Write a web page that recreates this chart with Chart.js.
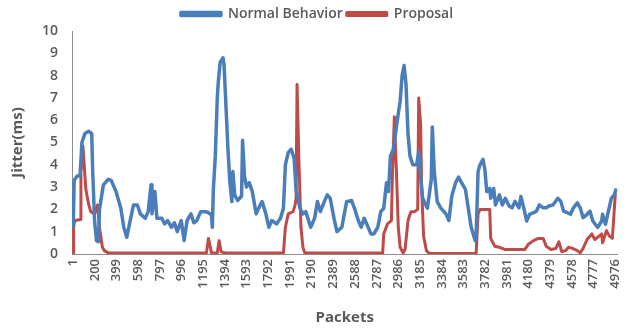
<!DOCTYPE html>
<html>
<head>
<meta charset="utf-8">
<script src="https://cdn.jsdelivr.net/npm/chart.js@4/dist/chart.umd.min.js"></script>
<style>
  html, body { margin: 0; padding: 0; background: #ffffff; }
  #wrap { width: 636px; height: 328px; position: relative; }
</style>
</head>
<body>
<div id="wrap"><canvas id="c" width="636" height="328"></canvas></div>
<script>
// Packet index tick labels along the x-axis
const packetTicks = [1, 200, 399, 598, 797, 996, 1195, 1394, 1593, 1792, 1991, 2190, 2389,
  2588, 2787, 2986, 3185, 3384, 3583, 3782, 3981, 4180, 4379, 4578, 4777, 4976];

// Normal Behavior: jitter (ms) per packet
const normalPackets = [1, 10, 37, 64, 81, 108, 144, 171, 180, 197, 215, 233, 242, 278, 322, 349, 394, 438, 465, 492,
  528, 555, 590, 617, 662, 689, 715, 724, 751, 769, 814, 840, 867, 903, 930, 956, 992, 1019, 1046, 1081,
  1108, 1135, 1171, 1215, 1242, 1269, 1278, 1287, 1305, 1323, 1332, 1350, 1376, 1385, 1403, 1421, 1439, 1457, 1466, 1483,
  1510, 1546, 1555, 1573, 1591, 1617, 1644, 1680, 1707, 1734, 1769, 1796, 1823, 1867, 1903, 1930, 1948, 1974, 2001, 2028,
  2046, 2082, 2109, 2135, 2180, 2216, 2242, 2269, 2305, 2332, 2359, 2394, 2421, 2466, 2510, 2555, 2582, 2617, 2644, 2671,
  2707, 2733, 2760, 2796, 2823, 2850, 2876, 2894, 2912, 2939, 2975, 3001, 3019, 3037, 3055, 3073, 3091, 3117, 3153, 3171,
  3189, 3207, 3251, 3287, 3296, 3314, 3341, 3376, 3421, 3448, 3475, 3510, 3537, 3564, 3600, 3626, 3653, 3689, 3698, 3716,
  3734, 3761, 3778, 3796, 3823, 3832, 3859, 3876, 3912, 3939, 3966, 4001, 4028, 4055, 4091, 4109, 4135, 4162, 4189, 4225,
  4251, 4278, 4314, 4341, 4367, 4403, 4448, 4475, 4501, 4537, 4564, 4591, 4627, 4653, 4680, 4716, 4743, 4769, 4814, 4850,
  4858, 4885, 4912, 4939, 4966, 4984];
const normalJitter = [1.2, 3.3, 3.5, 3.5, 5.0, 5.4, 5.5, 5.4, 3.7, 1.5, 0.6, 0.55, 2.0, 3.1, 3.35, 3.3, 2.8, 2.05, 1.2, 0.75,
  1.6, 2.2, 2.2, 1.8, 1.6, 1.9, 3.1, 1.8, 2.8, 1.6, 1.6, 1.35, 1.5, 1.2, 1.4, 1.0, 1.5, 0.6, 1.5, 1.8,
  1.4, 1.5, 1.9, 1.9, 1.85, 1.75, 1.2, 2.9, 4.4, 7.0, 7.7, 8.6, 8.8, 8.5, 6.6, 4.7, 3.2, 2.35, 3.7, 2.65,
  2.4, 2.6, 5.1, 3.5, 3.0, 3.2, 2.8, 1.8, 2.1, 2.35, 1.8, 1.2, 1.5, 1.35, 1.6, 2.05, 4.0, 4.55, 4.7, 4.3,
  2.9, 2.05, 1.8, 1.9, 1.2, 1.6, 2.35, 1.9, 2.35, 2.65, 2.5, 1.6, 1.0, 1.2, 2.35, 2.4, 2.05, 1.5, 1.2, 1.6,
  1.2, 0.9, 0.9, 1.2, 1.9, 2.05, 3.2, 2.8, 4.4, 4.7, 6.0, 6.85, 8.0, 8.45, 7.6, 5.4, 4.4, 4.0, 4.0, 4.6,
  3.5, 2.5, 2.05, 3.35, 5.7, 3.7, 2.35, 2.05, 1.8, 1.5, 2.6, 3.2, 3.45, 3.2, 2.9, 2.05, 1.2, 0.6, 0.8, 3.7,
  4.0, 4.25, 3.8, 2.8, 2.94, 2.5, 2.94, 2.2, 2.65, 2.2, 2.5, 2.15, 2.07, 2.36, 2.07, 2.58, 2.07, 1.48, 1.78, 1.85,
  1.92, 2.2, 2.07, 2.07, 2.15, 2.2, 2.5, 2.36, 1.92, 1.85, 1.78, 2.07, 2.29, 2.07, 1.63, 1.78, 1.92, 1.48, 1.19, 1.48,
  1.78, 1.33, 1.92, 2.5, 2.65, 2.94];

// Proposal: jitter (ms) per packet
const proposalPackets = [1, 5, 10, 19, 64, 72, 90, 99, 117, 144, 162, 197, 224, 242, 269, 287, 322, 1224, 1242, 1260,
  1269, 1323, 1340, 1358, 1394, 1930, 1948, 1974, 2019, 2037, 2046, 2055, 2073, 2091, 2109, 2126, 2841, 2850, 2885, 2921,
  2930, 2948, 2966, 2984, 3001, 3028, 3046, 3073, 3100, 3135, 3162, 3171, 3189, 3198, 3216, 3242, 3269, 3698, 3716, 3734,
  3823, 3832, 3868, 3912, 3966, 4028, 4144, 4180, 4225, 4269, 4314, 4341, 4385, 4430, 4457, 4484, 4519, 4546, 4582, 4627,
  4653, 4680, 4716, 4760, 4787, 4814, 4850, 4858, 4894, 4921, 4948, 4975, 4984];
const proposalJitter = [0.0, 1.2, 1.4, 1.5, 1.55, 3.7, 4.85, 4.2, 2.9, 2.2, 1.9, 1.8, 2.2, 1.2, 0.3, 0.15, 0.05, 0.05, 0.7, 0.3,
  0.05, 0.05, 0.6, 0.1, 0.05, 0.05, 1.2, 1.8, 1.9, 2.2, 2.5, 7.6, 4.0, 1.2, 0.3, 0.05, 0.05, 0.9, 1.35, 1.5,
  3.5, 6.15, 3.8, 1.2, 0.3, 0.05, 0.2, 1.5, 1.9, 1.9, 2.0, 7.0, 5.8, 3.0, 0.8, 0.15, 0.02, 0.02, 1.8, 2.0,
  2.0, 0.7, 0.35, 0.3, 0.2, 0.2, 0.2, 0.45, 0.6, 0.7, 0.7, 0.35, 0.2, 0.25, 0.55, 0.1, 0.15, 0.3, 0.25, 0.15,
  0.05, 0.25, 0.65, 0.9, 0.65, 0.75, 0.9, 0.5, 1.05, 0.8, 0.7, 2.65, 2.7];

const toPoints = (xs, ys) => xs.map((x, i) => ({ x: x, y: ys[i] }));

const textColor = '#595959';
const FONT = "'Open Sans', 'Liberation Sans', sans-serif";

new Chart(document.getElementById('c'), {
  type: 'line',
  data: {
    datasets: [
      {
        label: 'Normal Behavior',
        data: toPoints(normalPackets, normalJitter),
        borderColor: '#4a7ebb',
        backgroundColor: '#4a7ebb',
        borderWidth: 3.5,
        pointRadius: 0,
        tension: 0,
        borderJoinStyle: 'round'
      },
      {
        label: 'Proposal',
        data: toPoints(proposalPackets, proposalJitter),
        borderColor: '#be4b48',
        backgroundColor: '#be4b48',
        borderWidth: 3,
        pointRadius: 0,
        tension: 0,
        borderJoinStyle: 'round'
      }
    ]
  },
  options: {
    responsive: false,
    animation: false,
    events: [],
    layout: { padding: { top: 3, left: 0, right: 2, bottom: 0 } },
    plugins: {
      tooltip: { enabled: false },
      legend: {
        position: 'top',
        labels: {
          boxWidth: 40,
          boxHeight: 3,
          padding: 4,
          color: textColor,
          font: { family: FONT, size: 14, weight: '600' }
        }
      }
    },
    scales: {
      x: {
        type: 'linear',
        min: -10,
        max: 4995,
        afterBuildTicks: (scale) => { scale.ticks = packetTicks.map(v => ({ value: v })); },
        afterFit: (scale) => { scale.height = 74; },
        grid: { display: false, drawTicks: false },
        border: { display: true, color: '#8c8c8c', width: 1 },
        ticks: {
          autoSkip: false,
          minRotation: 90,
          maxRotation: 90,
          padding: 5,
          color: textColor,
          font: { family: FONT, size: 13, weight: '600' },
          callback: (v) => String(v)
        },
        title: {
          display: true,
          text: 'Packets',
          color: textColor,
          padding: { top: 0, bottom: 1 },
          font: { family: FONT, size: 15, weight: 'bold' }
        }
      },
      y: {
        min: 0,
        max: 10,
        afterFit: (scale) => { scale.width = 72; },
        grid: { display: false, drawTicks: false },
        border: { display: true, color: '#8c8c8c', width: 1 },
        ticks: {
          stepSize: 1,
          padding: 14,
          color: textColor,
          font: { family: FONT, size: 14, weight: '600' }
        },
        title: {
          display: true,
          text: 'Jitter(ms)',
          color: textColor,
          padding: { top: 9, bottom: 0 },
          font: { family: FONT, size: 15, weight: 'bold' }
        }
      }
    }
  }
});
</script>
</body>
</html>
